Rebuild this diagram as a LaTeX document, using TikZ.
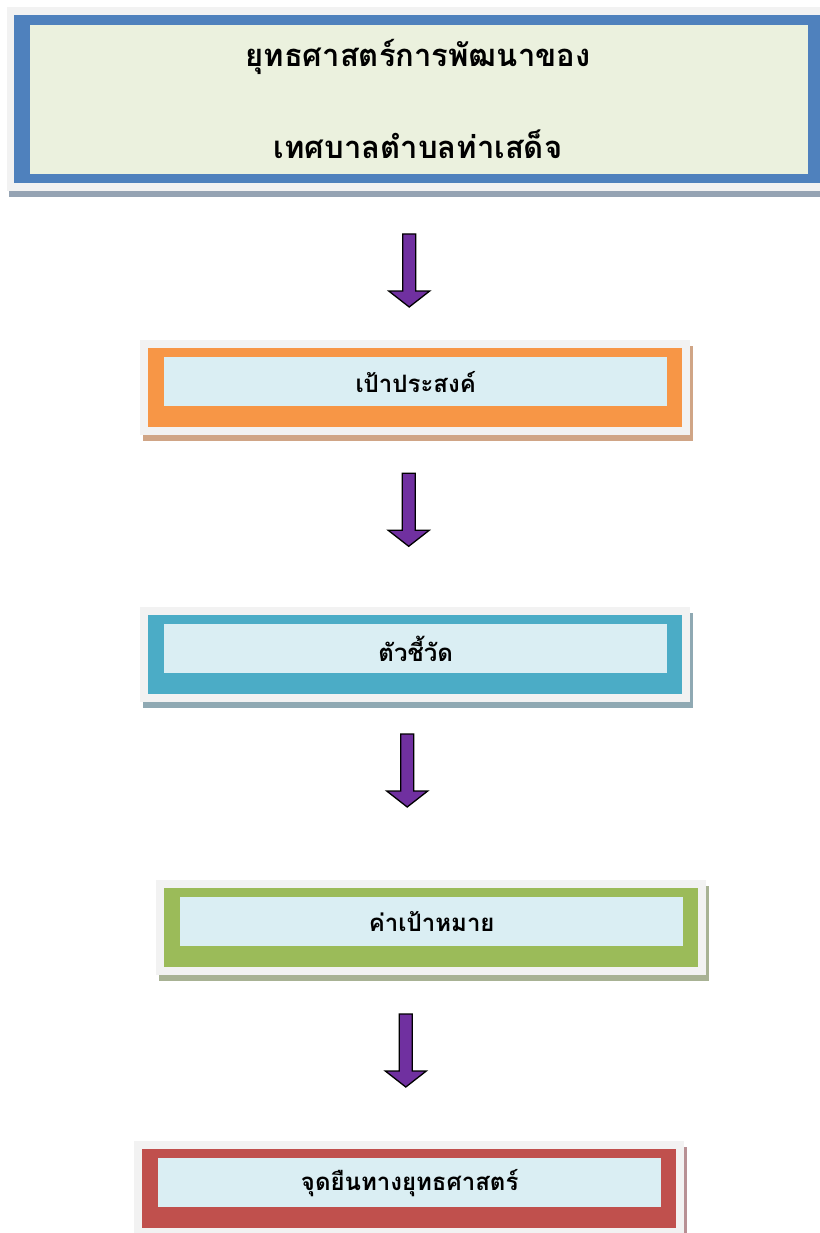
\documentclass[tikz,border=0pt]{standalone}
\usepackage{fontspec}
\newfontfamily\thaifont[Script=Thai]{Loma}
\definecolor{framegray}{HTML}{F2F2F2}
\definecolor{innerlight}{HTML}{DAEEF3}
\definecolor{titleinner}{HTML}{EBF1DE}
\definecolor{bluebox}{HTML}{4F81BD}
\definecolor{blueboxsh}{HTML}{95A3B3}
\definecolor{orangebox}{HTML}{F79646}
\definecolor{orangeboxsh}{HTML}{D0A586}
\definecolor{cyanbox}{HTML}{4BACC6}
\definecolor{cyanboxsh}{HTML}{8FA9B3}
\definecolor{greenbox}{HTML}{9BBB59}
\definecolor{greenboxsh}{HTML}{A8B294}
\definecolor{redbox}{HTML}{C0504D}
\definecolor{redboxsh}{HTML}{B89094}
\definecolor{arrowpurple}{HTML}{7030A0}
\tikzset{
  innerbox/.style={fill=innerlight, inner sep=0pt, minimum width=503pt, minimum height=49pt,
    font=\thaifont\bfseries\fontsize{24}{28}\selectfont},
  titletext/.style={inner sep=0pt, font=\thaifont\bfseries\fontsize{31}{36}\selectfont},
  arrowstyle/.style={fill=arrowpurple, draw=black, line width=1.3pt, line join=miter},
  blockarr/.pic={\draw[arrowstyle] (-6.5,0) -- (6.5,0) -- (6.5,57) -- (20.5,57) -- (0,73)
     -- (-20.5,57) -- (-6.5,57) -- cycle;}
}
\newcommand\flowbox[5]{% name, gx, gy, colour, text
  \fill[#4sh] (#2+3,#3+5.5) rectangle ++(550,95);
  \fill[framegray] (#2,#3) rectangle ++(550,95);
  \fill[#4] (#2+8,#3+8) rectangle ++(534,79);
  \node[innerbox, anchor=north west] (#1) at (#2+24,#3+17) {#5};
}
\begin{document}
\begin{tikzpicture}[x=1pt,y=-1pt]
\useasboundingbox (0,0) rectangle (819,1233);
% title box
\fill[blueboxsh] (9,13) rectangle (821,197);
\fill[framegray] (7,7) rectangle (821,191);
\fill[bluebox] (14,15) rectangle (821,183);
\node[fill=titleinner, inner sep=0pt, minimum width=778pt, minimum height=149pt, anchor=north west] (titlebox) at (30,25) {};
\node[titletext] (title1) at (418,57) {ยุทธศาสตร์การพัฒนาของ};
\node[titletext] (title2) at (418,144) {เทศบาลตำบลท่าเสด็จ};
% boxes
\flowbox{goal}{140}{340}{orangebox}{เป้าประสงค์}
\flowbox{indicator}{140}{607}{cyanbox}{ตัวชี้วัด}
\flowbox{target}{156}{880}{greenbox}{ค่าเป้าหมาย}
\flowbox{stance}{134}{1141}{redbox}{จุดยืนทางยุทธศาสตร์}
% arrows
\coordinate (a1) at (409.2,234);
\coordinate (a2) at (408.7,473.3);
\coordinate (a3) at (407.2,734);
\coordinate (a4) at (405.8,1014);
\pic at (a1) {blockarr};
\pic at (a2) {blockarr};
\pic at (a3) {blockarr};
\pic at (a4) {blockarr};
\end{tikzpicture}
\end{document}
